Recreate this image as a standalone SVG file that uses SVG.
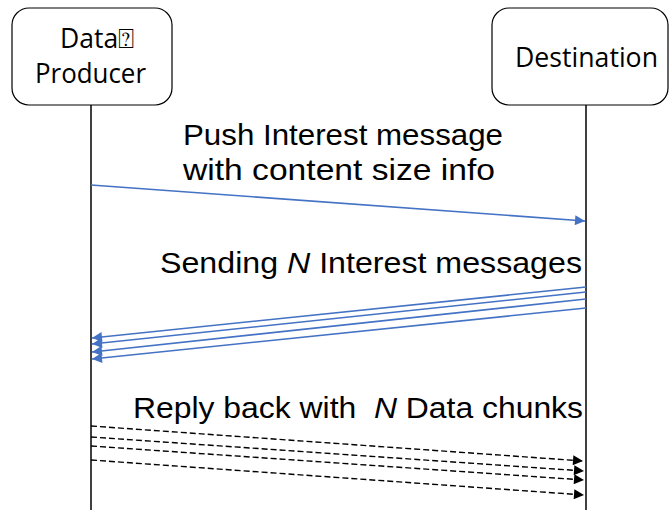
<svg xmlns="http://www.w3.org/2000/svg" width="670" height="510" viewBox="0 0 670 510">
  <style>
    .box { fill: #ffffff; stroke: #000000; stroke-width: 1.2; }
    .life { stroke: #000000; stroke-width: 1.5; fill: none; }
    .node-label { font-family: "Open Sans", "Noto Sans", sans-serif; font-size: 26.5px; fill: #000000; }
    .msg { font-family: "Liberation Sans", Arial, sans-serif; font-size: 30px; fill: #000000; }
    .req { stroke: #4472c4; stroke-width: 1.6; fill: none; marker-end: url(#blueHead); }
    .reply { stroke: #000000; stroke-width: 1.4; stroke-dasharray: 6 3; fill: none; marker-end: url(#blackHead); }
  </style>
  <defs>
    <marker id="blueHead" viewBox="0 0 10 10" refX="10" refY="5" markerWidth="12" markerHeight="10" markerUnits="userSpaceOnUse" orient="auto">
      <path d="M0,0 L10,5 L0,10 Z" fill="#4472c4"/>
    </marker>
    <marker id="blackHead" viewBox="0 0 10 10" refX="10" refY="5" markerWidth="12" markerHeight="10" markerUnits="userSpaceOnUse" orient="auto">
      <path d="M0,0 L10,5 L0,10 Z" fill="#000000"/>
    </marker>
  </defs>
  <rect width="670" height="510" fill="#ffffff"/>

  <!-- lifelines -->
  <g id="lifelines">
    <line class="life" x1="91" y1="105" x2="91" y2="510"/>
    <line class="life" x1="586" y1="105" x2="586" y2="510"/>
  </g>

  <!-- participants -->
  <g id="producer">
    <rect class="box" x="12" y="8" width="160" height="97" rx="17"/>
    <text class="node-label" x="60" y="48">Data⍰</text>
    <text class="node-label" x="35" y="83" textLength="111" lengthAdjust="spacingAndGlyphs">Producer</text>
  </g>
  <g id="destination">
    <rect class="box" x="492" y="8" width="176" height="97" rx="17"/>
    <text class="node-label" x="515" y="67" textLength="143" lengthAdjust="spacingAndGlyphs">Destination</text>
  </g>

  <!-- message labels -->
  <g id="labels">
    <text class="msg" x="183" y="145" textLength="320" lengthAdjust="spacingAndGlyphs">Push Interest message</text>
    <text class="msg" x="183" y="180" textLength="312" lengthAdjust="spacingAndGlyphs">with content size info</text>
    <text class="msg" x="160" y="273" textLength="422" lengthAdjust="spacingAndGlyphs">Sending <tspan font-style="italic">N</tspan> Interest messages</text>
    <text class="msg" x="133" y="418" xml:space="preserve" textLength="450" lengthAdjust="spacingAndGlyphs">Reply back with  <tspan font-style="italic">N</tspan> Data chunks</text>
  </g>

  <!-- connectors -->
  <g id="connectors">
    <line class="req" x1="91" y1="185" x2="585" y2="221"/>
    <line class="req" x1="586" y1="287" x2="92" y2="338"/>
    <line class="req" x1="586" y1="292" x2="92" y2="344"/>
    <line class="req" x1="586" y1="299" x2="92" y2="352"/>
    <line class="req" x1="586" y1="308" x2="92" y2="359"/>
    <line class="reply" x1="91" y1="426" x2="583" y2="461"/>
    <line class="reply" x1="91" y1="437" x2="584" y2="471"/>
    <line class="reply" x1="91" y1="446" x2="584" y2="480"/>
    <line class="reply" x1="91" y1="460" x2="584" y2="495"/>
  </g>
</svg>
